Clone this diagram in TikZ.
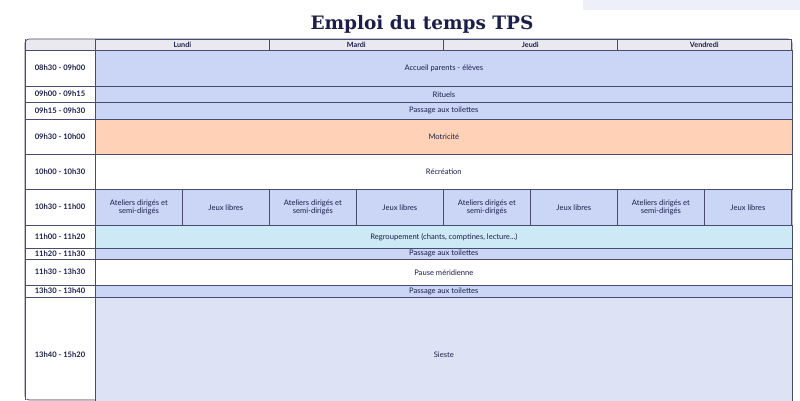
\documentclass[tikz,border=0pt]{standalone}
\usepackage{fontspec}
\setmainfont{Lato}
\newfontfamily\titlefont{DejaVu Serif}
\definecolor{ink}{HTML}{1B1F4A}
\definecolor{bleu}{HTML}{CBD5F6}
\definecolor{orange}{HTML}{FFD2B8}
\definecolor{ciel}{HTML}{CDE9F6}
\definecolor{sieste}{HTML}{DDE2F4}
\definecolor{entete}{HTML}{E9E9EF}
\begin{document}
\begin{tikzpicture}[x=1pt,y=-1pt,line width=0.7pt]
	\tikzstyle{case}=[draw=ink!80,text=ink,font=\fontsize{7.6}{8.6}\selectfont,align=center];
	\tikzstyle{heure}=[font=\bfseries\fontsize{7.6}{8.6}\selectfont,text=ink];
	\useasboundingbox (0,0) rectangle (800,400);
	\fill[sieste!50] (583,0) rectangle (800,10);
	\node[font=\titlefont\bfseries\fontsize{18.5}{20}\selectfont,text=ink] (titre) at (422,24) {Emploi du temps TPS};

	% en-tete
	\draw[case,fill=entete,rounded corners=4pt] (25,39) rectangle (792,400);
	\fill[white] (25.4,50) rectangle (95,399);
	\foreach \x/\jour [count=\i] in {95/Lundi,269/Mardi,443/Jeudi,617/Vendredi}
		\node[case,fill=entete,font=\bfseries\fontsize{7.2}{8}\selectfont,minimum width=174pt,minimum height=11pt,inner sep=0pt,anchor=north west] (j\i) at (\x,39) {\jour};

	% lignes
	\foreach \ya/\yb/\h/\coul/\txt [count=\i] in {
		50/86/08h30 - 09h00/bleu/Accueil parents - élèves,
		86/102/09h00 - 09h15/bleu/Rituels,
		102/119/09h15 - 09h30/bleu/Passage aux toilettes,
		119/154/09h30 - 10h00/orange/Motricité,
		154/189/10h00 - 10h30/white/Récréation,
		225/248/11h00 - 11h20/ciel/{Regroupement (chants, comptines, lecture...)},
		248/259/11h20 - 11h30/bleu/Passage aux toilettes,
		259/285/11h30 - 13h30/white/Pause méridienne,
		285/297/13h30 - 13h40/bleu/Passage aux toilettes,
		297/412/13h40 - 15h20/sieste/Sieste}{
		\draw[case] (25,\ya) -- (95,\ya);
		\node[heure] (h\i) at (60,{(\ya+\yb)/2}) {\h};
		\node[case,fill=\coul,minimum width=697pt,minimum height={\yb-\ya},inner sep=0pt,anchor=north west] (c\i) at (95,\ya) {\txt};
	}
	% ateliers
	\draw[case] (25,189) -- (95,189);
	\node[heure] (hat) at (60,207) {10h30 - 11h00};
	\foreach \x [count=\i] in {95,269,443,617}{
		\node[case,fill=bleu,minimum width=87pt,minimum height=36pt,inner sep=0pt,anchor=north west] (at\i) at (\x,189) {Ateliers dirigés et\\semi-dirigés};
		\node[case,fill=bleu,minimum width=87pt,minimum height=36pt,inner sep=0pt,anchor=north west] (jl\i) at (\x+87,189) {Jeux libres};
	}
	\draw[case] (25,39) -- (25,400) (95,39) -- (95,400);
\end{tikzpicture}
\end{document}
